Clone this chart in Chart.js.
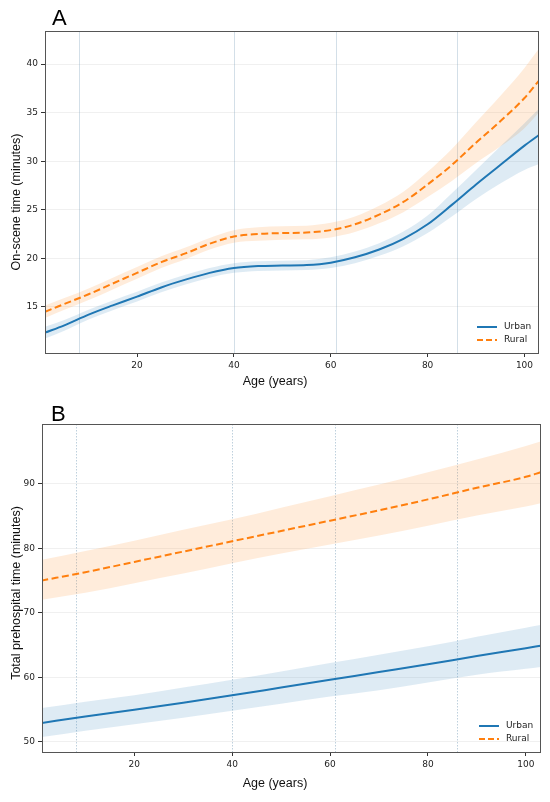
<!DOCTYPE html>
<html><head><meta charset="utf-8">
<script src="https://cdn.jsdelivr.net/npm/chart.js@4.4.1/dist/chart.umd.min.js"></script>
<style>
html,body{margin:0;padding:0;background:#fff;overflow:hidden;}
#wrapA{position:absolute;left:0;top:0;width:550px;height:400px;}
#wrapB{position:absolute;left:0;top:400px;width:550px;height:402px;}
</style></head><body>
<div id="wrapA"><canvas id="cA"></canvas></div>
<div id="wrapB"><canvas id="cB"></canvas></div>
<script>
// ---------- Panel A: On-scene time ----------
const agesA = [1,5,10,15,20,25,30,35,40,45,50,55,60,65,70,75,80,85,90,95,100,103];
const urbanA      = [12.35,13.1,14.2,15.15,16.05,17.0,17.8,18.5,19.0,19.2,19.25,19.3,19.55,20.1,20.9,22.0,23.5,25.5,27.6,29.6,31.6,32.7];
const urbanA_hi   = [12.95,13.65,14.7,15.65,16.55,17.5,18.3,19.0,19.5,19.7,19.75,19.8,20.1,20.7,21.55,22.75,24.4,26.7,29.1,31.5,33.9,35.4];
const urbanA_lo   = [11.75,12.55,13.7,14.65,15.55,16.5,17.3,18.0,18.5,18.7,18.75,18.8,19.0,19.5,20.25,21.25,22.6,24.3,26.1,27.7,29.1,29.7];
const ruralA      = [14.5,15.3,16.3,17.4,18.5,19.6,20.5,21.5,22.25,22.5,22.6,22.65,22.9,23.5,24.5,25.8,27.6,29.6,31.9,34.1,36.5,38.3];
const ruralA_hi   = [15.15,15.9,16.9,18.0,19.1,20.2,21.1,22.1,22.9,23.2,23.3,23.35,23.65,24.3,25.4,26.85,28.9,31.25,34.0,36.7,39.6,41.6];
const ruralA_lo   = [13.85,14.7,15.7,16.8,17.9,19.0,19.9,20.9,21.6,21.8,21.9,21.95,22.15,22.7,23.6,24.75,26.3,27.95,29.8,31.5,33.4,35.0];
const yTicksA = [15,20,25,30,35,40];

// ---------- Panel B: Total prehospital time ----------
const agesB = [1,10,20,30,40,50,60,70,80,90,100,103];
const urbanB    = [52.9,53.9,54.95,56.05,57.2,58.4,59.6,60.8,62.0,63.3,64.5,64.9];
const urbanB_hi = [55.2,56.2,57.2,58.4,59.6,60.9,62.2,63.5,64.8,66.3,67.7,68.1];
const urbanB_lo = [50.7,51.7,52.7,53.7,54.8,55.9,57.0,58.0,59.2,60.4,61.3,61.6];
const ruralB    = [75.0,76.3,77.9,79.5,81.1,82.7,84.3,85.9,87.6,89.4,91.1,91.8];
const ruralB_hi = [78.2,79.6,81.2,82.9,84.5,86.3,88.1,89.9,91.8,93.8,95.9,96.6];
const ruralB_lo = [72.0,73.1,74.6,76.1,77.7,79.2,80.6,82.0,83.5,85.1,86.5,87.0];
const yTicksB = [50,60,70,80,90];

const xTicks = [20,40,60,80,100];
const knots = [8,40,61,86];
const seriesNames = ['Urban','Rural'];

const BLUE = '#1f77b4', ORANGE = '#ff7f0e';
const BLUE_BAND = 'rgba(31,119,180,0.15)', ORANGE_BAND = 'rgba(255,127,14,0.15)';
const DASH = [7,3.5];

function pts(xs, ys){ return xs.map((x,i)=>({x:x, y:ys[i]})); }

function makeChart(id, cfg){
  const datasets = [
    {label:'uHi', data:pts(cfg.ages,cfg.uHi), borderWidth:0, pointRadius:0, backgroundColor:BLUE_BAND, fill:'+1', cubicInterpolationMode:'monotone', order:2},
    {label:'uLo', data:pts(cfg.ages,cfg.uLo), borderWidth:0, pointRadius:0, fill:false, cubicInterpolationMode:'monotone', order:2},
    {label:'rHi', data:pts(cfg.ages,cfg.rHi), borderWidth:0, pointRadius:0, backgroundColor:ORANGE_BAND, fill:'+1', cubicInterpolationMode:'monotone', order:2},
    {label:'rLo', data:pts(cfg.ages,cfg.rLo), borderWidth:0, pointRadius:0, fill:false, cubicInterpolationMode:'monotone', order:2},
    {label:seriesNames[0], data:pts(cfg.ages,cfg.u), borderColor:BLUE, borderWidth:2, pointRadius:0, fill:false, cubicInterpolationMode:'monotone', order:0},
    {label:seriesNames[1], data:pts(cfg.ages,cfg.r), borderColor:ORANGE, borderWidth:2, borderDash:DASH, pointRadius:0, fill:false, cubicInterpolationMode:'monotone', order:0}
  ];
  const deco = {
    id:'deco'+id,
    beforeDatasetsDraw(chart){
      const ctx = chart.ctx, a = chart.chartArea, xs = chart.scales.x;
      ctx.save();
      ctx.strokeStyle = cfg.knotColor;
      ctx.lineWidth = 1;
      ctx.setLineDash(cfg.knotDash);
      knots.forEach(k=>{
        const px = Math.round(xs.getPixelForValue(k))+0.5;
        ctx.beginPath(); ctx.moveTo(px,a.top); ctx.lineTo(px,a.bottom); ctx.stroke();
      });
      ctx.restore();
    },
    afterDraw(chart){
      const ctx = chart.ctx, a = chart.chartArea, W = chart.width;
      ctx.save();
      // frame
      ctx.strokeStyle = '#555'; ctx.lineWidth = 1;
      ctx.strokeRect(Math.round(a.left)+0.5, Math.round(a.top)+0.5, Math.round(a.right-a.left)-1, Math.round(a.bottom-a.top));
      // panel letter
      ctx.fillStyle = '#000';
      ctx.font = '22px "Liberation Sans", Arial, sans-serif';
      ctx.textAlign = 'left'; ctx.textBaseline = 'alphabetic';
      ctx.fillText(cfg.letter, a.left + cfg.letterDx, cfg.letterY);
      // axis titles
      ctx.font = '12.5px "Liberation Sans", Arial, sans-serif';
      ctx.fillStyle = '#111';
      ctx.textAlign = 'center'; ctx.textBaseline = 'middle';
      ctx.fillText('Age (years)', W/2, cfg.xTitleY);
      ctx.translate(17, cfg.yTitleY); ctx.rotate(-Math.PI/2);
      ctx.fillText(cfg.yTitle, 0, 0);
      ctx.restore();
      // legend
      ctx.save();
      ctx.font = '9px "DejaVu Sans", sans-serif';
      ctx.textAlign = 'left'; ctx.textBaseline = 'middle';
      const lx = a.right - 62, ly1 = a.bottom - 26, ly2 = a.bottom - 13;
      ctx.lineWidth = 2;
      ctx.strokeStyle = BLUE; ctx.setLineDash([]);
      ctx.beginPath(); ctx.moveTo(lx, ly1); ctx.lineTo(lx+20, ly1); ctx.stroke();
      ctx.strokeStyle = ORANGE; ctx.setLineDash([6,3]);
      ctx.beginPath(); ctx.moveTo(lx, ly2); ctx.lineTo(lx+20, ly2); ctx.stroke();
      ctx.setLineDash([]);
      ctx.fillStyle = '#222';
      ctx.fillText(seriesNames[0], lx+27, ly1);
      ctx.fillText(seriesNames[1], lx+27, ly2);
      ctx.restore();
    }
  };
  return new Chart(document.getElementById(id), {
    type:'line',
    data:{datasets},
    options:{
      responsive:true, maintainAspectRatio:false, animation:false,
      layout:{padding:cfg.padding},
      plugins:{legend:{display:false}, tooltip:{enabled:false}, title:{display:false}},
      scales:{
        x:{type:'linear', min:cfg.xMin, max:cfg.xMax,
           afterBuildTicks:s=>{ s.ticks = xTicks.map(v=>({value:v})); },
           afterFit:s=>{ s.height = cfg.xAxisH; },
           grid:{drawOnChartArea:false, drawTicks:true, tickLength:4, tickColor:'#333', color:'#333'},
           border:{display:false},
           ticks:{font:{family:'DejaVu Sans', size:9}, color:'#222', padding:3, maxRotation:0, autoSkip:false}},
        y:{type:'linear', min:cfg.yMin, max:cfg.yMax,
           afterBuildTicks:s=>{ s.ticks = cfg.yTicks.map(v=>({value:v})); },
           afterFit:s=>{ s.width = cfg.yAxisW; },
           grid:{color:'rgba(0,0,0,0.06)', drawTicks:true, tickLength:4, tickColor:'#333'},
           border:{display:false},
           ticks:{font:{family:'DejaVu Sans', size:9}, color:'#222', padding:3, autoSkip:false}}
      }
    },
    plugins:[deco]
  });
}

makeChart('cA', {
  ages:agesA, u:urbanA, uHi:urbanA_hi, uLo:urbanA_lo, r:ruralA, rHi:ruralA_hi, rLo:ruralA_lo,
  yTicks:yTicksA, xMin:1, xMax:103, yMin:10.25, yMax:43.4,
  padding:{left:0, right:11, top:31, bottom:0}, xAxisH:47, yAxisW:45,
  letter:'A', letterDx:7, letterY:25, xTitleY:382, yTitleY:202,
  yTitle:'On-scene time (minutes)', knotDash:[], knotColor:'rgba(110,150,180,0.3)'
});
makeChart('cB', {
  ages:agesB, u:urbanB, uHi:urbanB_hi, uLo:urbanB_lo, r:ruralB, rHi:ruralB_hi, rLo:ruralB_lo,
  yTicks:yTicksB, xMin:1.15, xMax:103.1, yMin:48.4, yMax:99.3,
  padding:{left:0, right:9, top:24, bottom:0}, xAxisH:50, yAxisW:42,
  letter:'B', letterDx:9, letterY:21, xTitleY:384, yTitleY:193,
  yTitle:'Total prehospital time (minutes)', knotDash:[1.5,1.5], knotColor:'rgba(110,150,180,0.45)'
});
</script>
</body></html>
